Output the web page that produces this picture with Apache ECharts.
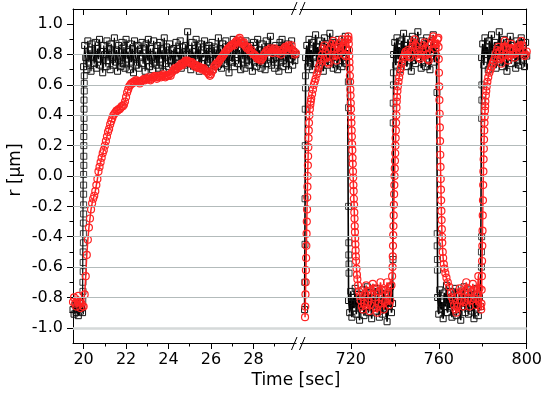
<!DOCTYPE html>
<html>
<head>
<meta charset="utf-8">
<script src="https://cdn.jsdelivr.net/npm/echarts@6/dist/echarts.min.js"></script>
<style>
  html, body { margin: 0; padding: 0; background: #fff; }
  #main { width: 545px; height: 396px; }
</style>
</head>
<body>
<div id="main"></div>
<script>
// left part of the broken time axis: samples every 0.05 s from 19.5 s
var leftT0 = 19.5, leftStep = 0.05;
var blackLeft = [
  -0.88,-0.91,-0.85,-0.90,-0.86,-0.92,-0.84,-0.89,-0.87,-0.90,
  0.72,0.86,0.78,0.70,0.89,0.75,0.83,0.69,0.87,0.79,
  0.74,0.88,0.71,0.84,0.77,0.90,0.73,0.82,0.68,0.86,
  0.80,0.72,0.89,0.76,0.84,0.70,0.87,0.78,0.73,0.91,
  0.75,0.83,0.69,0.86,0.79,0.72,0.88,0.74,0.85,0.71,
  0.90,0.77,0.82,0.70,0.87,0.75,0.84,0.68,0.89,0.78,
  0.73,0.86,0.71,0.83,0.79,0.88,0.74,0.81,0.69,0.87,
  0.76,0.90,0.72,0.84,0.78,0.70,0.89,0.75,0.82,0.73,
  0.86,0.71,0.88,0.77,0.83,0.69,0.91,0.74,0.85,0.79,
  0.72,0.87,0.76,0.83,0.73,0.84,0.70,0.88,0.78,0.82,
  0.75,0.89,0.71,0.85,0.79,0.73,0.86,0.80,0.95,0.74,
  0.84,0.70,0.88,0.76,0.82,0.72,0.90,0.77,0.85,0.69,
  0.87,0.74,0.81,0.78,0.89,0.71,0.84,0.75,0.86,0.73,
  0.80,0.88,0.70,0.85,0.77,0.83,0.72,0.91,0.76,0.84,
  0.71,0.87,0.79,0.74,0.89,0.73,0.82,0.68,0.86,0.78,
  0.75,0.90,0.72,0.84,0.80,0.87,0.74,0.83,0.70,0.88,
  0.77,0.85,0.71,0.89,0.76,0.82,0.73,0.86,0.79,0.69,
  0.88,0.75,0.84,0.72,0.90,0.78,0.83,0.71,0.87,0.76,
  0.82,0.70,0.89,0.74,0.85,0.79,0.92,0.73,0.84,0.77,
  0.71,0.86,0.78,0.83,0.69,0.88,0.75,0.90,0.72,0.85,
  0.79,0.74,0.87,0.70,0.84,0.77,0.89,0.73,0.82,0.76,
  0.80
];
var redLeft = [
  -0.83,-0.80,-0.84,-0.86,-0.82,-0.79,-0.83,-0.87,-0.84,-0.86,
  -0.86,-0.78,-0.66,-0.52,-0.42,-0.34,-0.28,-0.22,-0.18,-0.15,
  -0.13,-0.10,-0.06,-0.02,0.03,0.06,0.09,0.12,0.15,0.17,
  0.20,0.23,0.26,0.29,0.31,0.34,0.36,0.38,0.40,0.41,
  0.42,0.43,0.43,0.44,0.44,0.45,0.46,0.46,0.47,0.49,
  0.52,0.55,0.57,0.59,0.60,0.61,0.61,0.62,0.62,0.63,
  0.63,0.62,0.62,0.61,0.62,0.63,0.63,0.64,0.63,0.64,
  0.64,0.65,0.64,0.63,0.64,0.65,0.65,0.66,0.65,0.64,
  0.65,0.66,0.66,0.65,0.66,0.67,0.66,0.65,0.66,0.66,
  0.66,0.67,0.66,0.68,0.69,0.70,0.71,0.70,0.71,0.72,
  0.72,0.73,0.74,0.73,0.74,0.75,0.76,0.75,0.76,0.75,
  0.75,0.74,0.75,0.74,0.73,0.72,0.73,0.72,0.71,0.72,
  0.71,0.71,0.70,0.71,0.70,0.69,0.69,0.68,0.67,0.66,
  0.67,0.69,0.70,0.72,0.73,0.74,0.74,0.75,0.76,0.77,
  0.78,0.79,0.80,0.81,0.82,0.83,0.84,0.84,0.85,0.86,
  0.86,0.87,0.86,0.88,0.89,0.88,0.90,0.91,0.89,0.88,
  0.87,0.88,0.86,0.85,0.84,0.85,0.83,0.82,0.83,0.81,
  0.80,0.80,0.79,0.78,0.77,0.78,0.77,0.76,0.77,0.78,
  0.80,0.81,0.82,0.83,0.82,0.83,0.84,0.82,0.81,0.83,
  0.84,0.83,0.82,0.81,0.83,0.82,0.80,0.82,0.83,0.84,
  0.85,0.84,0.83,0.86,0.85,0.84,0.86,0.83,0.82,0.80,
  0.81
];
// squares along the fast jump near 20 s
var blackLeftJump = [
  [19.96,-0.82],[19.97,-0.76],[19.97,-0.70],[19.98,-0.63],[19.98,-0.57],[19.98,-0.50],
  [19.99,-0.44],[19.99,-0.38],[19.99,-0.31],[20.0,-0.25],[20.0,-0.19],[20.0,-0.12],
  [20.0,-0.06],[20.0,0.01],[20.01,0.07],[20.01,0.13],[20.01,0.20],[20.01,0.26],
  [20.02,0.32],[20.02,0.38],[20.02,0.44],[20.02,0.50],[20.03,0.56],[20.03,0.61],[20.03,0.66]
];

// right part: black samples every 0.5 s from 699 s
var rightT0 = 699, rightStep = 0.5;
var blackRight = [
  -0.88,
  0.78,0.86,0.72,0.90,0.75,0.83,0.70,0.88,0.79,0.93,
  0.74,0.85,0.71,0.89,0.77,0.84,0.69,0.91,0.76,0.87,
  0.73,0.82,0.94,0.75,0.86,0.71,0.88,0.78,0.84,0.70,
  0.90,0.76,0.85,0.72,0.87,0.79,0.92,0.74,0.83,
  -0.82,-0.90,-0.76,-0.93,-0.80,-0.87,-0.74,-0.91,-0.84,-0.78,
  -0.95,-0.81,-0.88,-0.75,-0.92,-0.79,-0.86,-0.73,-0.90,-0.83,
  -0.77,-0.94,-0.80,-0.87,-0.74,-0.89,-0.82,-0.76,-0.93,-0.85,
  -0.79,-0.91,-0.75,-0.88,-0.81,-0.96,-0.78,-0.86,-0.73,-0.90,
  -0.84,
  0.80,0.88,0.73,0.91,0.77,0.85,0.70,0.89,0.82,0.94,
  0.75,0.86,0.72,0.90,0.79,0.84,0.69,0.92,0.76,0.87,
  0.74,0.83,0.95,0.78,0.86,0.71,0.89,0.80,0.85,0.72,
  0.91,0.77,0.84,0.70,0.88,0.81,0.93,0.75,0.86,0.79,
  -0.80,-0.91,-0.75,-0.88,-0.83,-0.94,-0.77,-0.86,-0.72,-0.90,
  -0.81,-0.87,-0.76,-0.93,-0.79,-0.85,-0.74,-0.92,-0.82,-0.88,
  -0.78,-0.95,-0.80,-0.86,-0.73,-0.90,-0.84,-0.77,-0.91,-0.83,
  -0.75,-0.89,-0.81,-0.94,-0.78,-0.87,-0.74,-0.92,-0.80,-0.86,
  0.78,0.87,0.73,0.91,0.80,0.85,0.70,0.89,0.76,0.93,
  0.82,0.74,0.88,0.71,0.86,0.79,0.95,0.75,0.84,0.72,
  0.90,0.77,0.85,0.69,0.88,0.81,0.92,0.74,0.86,0.78,
  0.83,0.71,0.89,0.76,0.87,0.73,0.91,0.80,0.84,0.72,
  0.88,0.79
];
var blackRightJumps = [
  [699.1,-0.70],[699.2,-0.45],[699.2,-0.15],[699.3,0.20],[699.3,0.44],[699.4,0.58],[699.4,0.66],
  [718.9,0.62],[719.0,0.45],[719.0,-0.20],[719.1,-0.44],[719.1,-0.52],[719.2,-0.58],[719.2,-0.64],
  [739.2,-0.55],[739.3,0.35],[739.3,0.48],[739.4,0.60],[739.4,0.68],
  [759.2,0.55],[759.3,-0.38],[759.3,-0.46],[759.4,-0.55],[759.4,-0.62],
  [779.4,-0.60],[779.4,-0.50],[779.5,-0.40],[779.5,0.38],[779.6,0.50],[779.6,0.60]
];
// red trace, right part, [time, r]
var redRight = [
  [699.2,-0.93],[699.3,-0.86],[699.4,-0.78],[699.5,-0.70],[699.6,-0.62],[699.7,-0.54],[699.8,-0.46],[699.9,-0.38],
  [700.0,-0.30],[700.1,-0.22],[700.2,-0.14],[700.3,-0.07],[700.4,0.00],[700.5,0.07],[700.6,0.13],[700.7,0.19],
  [700.8,0.25],[700.9,0.30],[701.0,0.35],[701.2,0.40],[701.4,0.44],[701.6,0.47],[701.8,0.49],[702.0,0.51],
  [702.4,0.54],[702.8,0.57],[703.2,0.60],[703.6,0.62],[704.0,0.64],[704.5,0.67],[705.0,0.69],[705.5,0.72],
  [706.0,0.74],[706.5,0.77],[707.0,0.80],
  [707.5,0.84],[708.0,0.86],[708.5,0.82],[709.0,0.78],[709.5,0.75],[710.0,0.74],[710.5,0.79],[711.0,0.84],
  [711.5,0.87],[712.0,0.89],[712.5,0.84],[713.0,0.79],[713.5,0.76],[714.0,0.80],[714.5,0.85],[715.0,0.83],
  [715.5,0.88],[716.0,0.90],[716.5,0.85],[717.0,0.80],[717.5,0.79],[718.0,0.84],[718.5,0.90],[718.9,0.92],
  [719.0,0.90],[719.1,0.87],[719.2,0.83],[719.3,0.79],[719.4,0.75],[719.5,0.71],[719.6,0.66],[719.7,0.62],
  [719.8,0.57],[719.9,0.53],[720.0,0.48],[720.1,0.44],[720.2,0.39],[720.3,0.35],[720.4,0.30],[720.5,0.26],
  [720.6,0.21],[720.7,0.17],[720.8,0.12],[720.9,0.08],[721.0,0.03],[721.1,-0.01],[721.2,-0.06],[721.3,-0.10],
  [721.4,-0.15],[721.5,-0.19],[721.6,-0.24],[721.7,-0.28],[721.8,-0.33],[721.9,-0.37],[722.0,-0.41],[722.1,-0.45],
  [722.2,-0.49],[722.3,-0.53],[722.4,-0.56],[722.6,-0.61],[722.8,-0.65],[723.0,-0.68],[723.3,-0.72],[723.7,-0.76],
  [724.1,-0.79],[724.5,-0.82],[725.0,-0.86],
  [725.5,-0.88],[726.0,-0.84],[726.5,-0.78],[727.0,-0.72],[727.5,-0.76],[728.0,-0.83],[728.5,-0.89],[729.0,-0.85],
  [729.5,-0.78],[730.0,-0.71],[730.5,-0.74],[731.0,-0.80],[731.5,-0.87],[732.0,-0.90],[732.5,-0.84],[733.0,-0.76],
  [733.5,-0.70],[734.0,-0.75],[734.5,-0.82],[735.0,-0.88],[735.5,-0.83],[736.0,-0.75],[736.5,-0.70],[737.0,-0.77],
  [737.5,-0.85],[738.0,-0.82],[738.5,-0.72],[738.8,-0.66],
  [739.0,-0.60],[739.1,-0.53],[739.2,-0.46],[739.3,-0.39],[739.4,-0.33],[739.5,-0.26],[739.6,-0.19],[739.7,-0.12],
  [739.8,-0.06],[739.9,0.00],[740.0,0.05],[740.1,0.10],[740.2,0.15],[740.3,0.20],[740.4,0.25],[740.5,0.30],
  [740.6,0.35],[740.7,0.40],[740.8,0.45],[740.9,0.49],[741.0,0.52],[741.2,0.56],[741.4,0.59],[741.7,0.62],
  [742.0,0.65],[742.4,0.68],[742.8,0.71],[743.2,0.74],[743.7,0.77],[744.2,0.79],[744.7,0.81],
  [745.0,0.82],[745.5,0.80],[746.0,0.83],[746.5,0.79],[747.0,0.78],[747.5,0.82],[748.0,0.85],[748.5,0.88],
  [749.0,0.90],[749.5,0.86],[750.0,0.83],[750.5,0.80],[751.0,0.78],[751.5,0.77],[752.0,0.80],[752.5,0.83],
  [753.0,0.86],[753.5,0.88],[754.0,0.84],[754.5,0.80],[755.0,0.77],[755.5,0.76],[756.0,0.81],[756.5,0.87],
  [757.0,0.90],[757.5,0.92],[758.0,0.87],[758.5,0.84],[759.0,0.87],[759.5,0.90],[759.8,0.91],
  [759.9,0.85],[760.0,0.77],[760.1,0.68],[760.2,0.59],[760.3,0.50],[760.4,0.41],[760.5,0.32],[760.6,0.23],
  [760.7,0.14],[760.8,0.06],[760.9,-0.02],[761.0,-0.09],[761.1,-0.16],[761.2,-0.23],[761.3,-0.29],[761.4,-0.35],
  [761.5,-0.40],[761.6,-0.44],[761.8,-0.50],[762.0,-0.54],[762.3,-0.58],[762.6,-0.61],[763.0,-0.64],[763.5,-0.67],
  [764.1,-0.70],[764.8,-0.73],[765.5,-0.77],[766.0,-0.80],
  [766.5,-0.82],[767.0,-0.85],[767.5,-0.88],[768.0,-0.90],[768.5,-0.86],[769.0,-0.79],[769.5,-0.74],[770.0,-0.76],
  [770.5,-0.82],[771.0,-0.86],[771.5,-0.83],[772.0,-0.76],[772.5,-0.70],[773.0,-0.74],[773.5,-0.81],[774.0,-0.86],
  [774.5,-0.82],[775.0,-0.76],[775.5,-0.71],[776.0,-0.75],[776.5,-0.81],[777.0,-0.85],[777.5,-0.78],[778.0,-0.66],
  [778.5,-0.74],[779.0,-0.86],[779.3,-0.88],
  [779.4,-0.84],[779.5,-0.75],[779.6,-0.66],[779.7,-0.56],[779.8,-0.46],[779.9,-0.36],[780.0,-0.26],[780.1,-0.16],
  [780.2,-0.06],[780.3,0.03],[780.4,0.11],[780.5,0.18],[780.6,0.24],[780.7,0.30],[780.8,0.35],[780.9,0.39],
  [781.0,0.43],[781.1,0.46],[781.2,0.49],[781.4,0.53],[781.6,0.56],[781.8,0.59],[782.1,0.62],[782.5,0.65],
  [783.0,0.68],[783.5,0.70],[784.0,0.72],[784.5,0.74],[785.0,0.76],
  [785.5,0.78],[786.0,0.81],[786.5,0.83],[787.0,0.85],[787.5,0.82],[788.0,0.77],[788.5,0.74],[789.0,0.79],
  [789.5,0.85],[790.0,0.89],[790.5,0.85],[791.0,0.80],[791.5,0.76],[792.0,0.79],[792.5,0.84],[793.0,0.87],
  [793.5,0.84],[794.0,0.80],[794.5,0.78],[795.0,0.81],[795.5,0.84],[796.0,0.85],[796.5,0.83],[797.0,0.86],
  [797.5,0.89],[798.0,0.86],[798.5,0.82],[799.0,0.79],[799.5,0.80],[800.0,0.82]
];

// ticks
var yTicks = [-1.0, -0.8, -0.6, -0.4, -0.2, 0.0, 0.2, 0.4, 0.6, 0.8, 1.0];
var yMinor = [-0.9, -0.7, -0.5, -0.3, -0.1, 0.1, 0.3, 0.5, 0.7, 0.9];
var yRightTicks = [-1.0,-0.9,-0.8,-0.7,-0.6,-0.5,-0.4,-0.3,-0.2,-0.1,0,0.1,0.2,0.3,0.4,0.5,0.6,0.7,0.8,0.9,1.0];
var gridLines = [-0.8, -0.6, -0.4, -0.2, 0.0, 0.2, 0.4, 0.6, 0.8];
var xLeftTicks = [20, 22, 24, 26, 28];
var xLeftMinor = [21, 23, 25, 27, 29];
var xRightTicks = [720, 760, 800];
var xRightMinor = [740, 780];
var xRightTop = [720, 740, 760, 780];

function withTime(vals, t0, dt) {
  return vals.map(function (v, i) { return [+(t0 + i * dt).toFixed(3), v]; });
}

var myChart = echarts.init(document.getElementById('main'));
var font = 'DejaVu Sans';
var Y_MIN = -1.1, Y_MAX = 1.1;

function xAx(grid, min, max, pos, ticks, opts) {
  opts = opts || {};
  return {
    type: 'value', gridIndex: grid, min: min, max: max, position: pos,
    axisLine: { show: opts.line !== false, onZero: false, lineStyle: { color: '#000', width: 1 } },
    axisTick: { show: true, inside: !!opts.inside, length: opts.len || 6, customValues: ticks,
                lineStyle: { color: '#000', width: 1 } },
    axisLabel: opts.labels ? { show: true, customValues: ticks, margin: 9, showMaxLabel: true, showMinLabel: true,
                fontFamily: font, fontSize: 16, color: '#000' } : { show: false },
    splitLine: { show: false }
  };
}
function yAx(grid, pos, ticks, opts) {
  opts = opts || {};
  return {
    type: 'value', gridIndex: grid, min: Y_MIN, max: Y_MAX, position: pos,
    axisLine: { show: opts.line !== false, onZero: false, lineStyle: { color: '#000', width: 1 } },
    axisTick: { show: true, inside: !!opts.inside, length: opts.len || 6, customValues: ticks,
                lineStyle: { color: '#000', width: 1 } },
    axisLabel: opts.labels ? { show: true, customValues: ticks, margin: 10, fontFamily: font, fontSize: 16,
                color: '#000', formatter: function (v) { return v.toFixed(1); } } : { show: false },
    splitLine: { show: false }
  };
}

var squareStyle = { color: 'rgba(0,0,0,0)', borderColor: '#111', borderWidth: 1 };
var circleStyle = { color: 'rgba(0,0,0,0)', borderColor: '#ff2323', borderWidth: 1.2 };

function gridSeries(xi, yi) {
  return {
    type: 'line', xAxisIndex: xi, yAxisIndex: yi, data: [], silent: true, z: 0,
    markLine: {
      silent: true, symbol: 'none', animation: false, label: { show: false },
      lineStyle: { color: '#b3bbbb', width: 1, type: 'solid' },
      data: gridLines.map(function (v) { return { yAxis: v }; }).concat([
        { yAxis: -1.0, lineStyle: { color: '#d5d9d9', width: 2.5, type: 'solid' } }
      ])
    }
  };
}

var option = {
  animation: false,
  grid: [
    { left: 73, top: 9, width: 225, height: 334 },
    { left: 298, top: 9, width: 229, height: 334 }
  ],
  xAxis: [
    xAx(0, 19.5, 30.1, 'bottom', xLeftTicks, { labels: true }),
    xAx(0, 19.5, 30.1, 'bottom', xLeftMinor, { line: false, len: 3.5 }),
    xAx(0, 19.5, 30.1, 'top', xLeftTicks, { inside: true }),
    xAx(1, 696, 800, 'bottom', xRightTicks, { labels: true }),
    xAx(1, 696, 800, 'bottom', xRightMinor, { line: false, len: 3.5 }),
    xAx(1, 696, 800, 'top', xRightTop, { inside: true })
  ],
  yAxis: [
    yAx(0, 'left', yTicks, { labels: true }),
    yAx(0, 'left', yMinor, { line: false, len: 3.5 }),
    yAx(1, 'right', yRightTicks, { inside: true, len: 4 })
  ],
  series: [
    gridSeries(0, 0),
    gridSeries(3, 2),
    {
      type: 'line', xAxisIndex: 0, yAxisIndex: 0, data: withTime(blackLeft, leftT0, leftStep),
      symbol: 'rect', symbolSize: 6, showAllSymbol: true, itemStyle: squareStyle,
      lineStyle: { color: '#000', width: 1.2 }, silent: true, z: 2
    },
    {
      type: 'scatter', xAxisIndex: 0, yAxisIndex: 0, data: blackLeftJump,
      symbol: 'rect', symbolSize: 6, itemStyle: squareStyle, silent: true, z: 2
    },
    {
      type: 'line', xAxisIndex: 0, yAxisIndex: 0, data: withTime(redLeft, leftT0, leftStep),
      symbol: 'circle', symbolSize: 7, showAllSymbol: true, itemStyle: circleStyle,
      lineStyle: { color: '#ff2323', width: 1.5 }, silent: true, z: 3
    },
    {
      type: 'line', xAxisIndex: 3, yAxisIndex: 2, data: withTime(blackRight, rightT0, rightStep),
      symbol: 'rect', symbolSize: 6, showAllSymbol: true, itemStyle: squareStyle,
      lineStyle: { color: '#000', width: 1.6 }, silent: true, z: 2
    },
    {
      type: 'scatter', xAxisIndex: 3, yAxisIndex: 2, data: blackRightJumps,
      symbol: 'rect', symbolSize: 6, itemStyle: squareStyle, silent: true, z: 2
    },
    {
      type: 'line', xAxisIndex: 3, yAxisIndex: 2, data: redRight,
      symbol: 'circle', symbolSize: 7, showAllSymbol: true, itemStyle: circleStyle,
      lineStyle: { color: '#ff2323', width: 1.5 }, silent: true, z: 3
    }
  ],
  graphic: [
    { type: 'rect', shape: { x: 296.5, y: 5, width: 3.5, height: 8 }, style: { fill: '#fff' }, z: 50 },
    { type: 'rect', shape: { x: 296.5, y: 339, width: 3.5, height: 8 }, style: { fill: '#fff' }, z: 50 },
    { type: 'line', shape: { x1: 291.5, y1: 15, x2: 297, y2: 2 }, style: { stroke: '#000', lineWidth: 1 }, z: 51 },
    { type: 'line', shape: { x1: 299.5, y1: 15, x2: 305, y2: 2 }, style: { stroke: '#000', lineWidth: 1 }, z: 51 },
    { type: 'line', shape: { x1: 291.5, y1: 350, x2: 297, y2: 337 }, style: { stroke: '#000', lineWidth: 1 }, z: 51 },
    { type: 'line', shape: { x1: 299.5, y1: 350, x2: 305, y2: 337 }, style: { stroke: '#000', lineWidth: 1 }, z: 51 },
    { type: 'text', x: 296, y: 381, z: 50,
      style: { text: 'Time [sec]', font: '17px "DejaVu Sans"', fill: '#000', textAlign: 'center', textVerticalAlign: 'middle' } },
    { type: 'text', x: 16, y: 170, rotation: Math.PI / 2, z: 50,
      style: { text: 'r [µm]', font: '17px "DejaVu Sans"', fill: '#000', textAlign: 'center', textVerticalAlign: 'middle' } }
  ]
};

myChart.setOption(option);
</script>
</body>
</html>
